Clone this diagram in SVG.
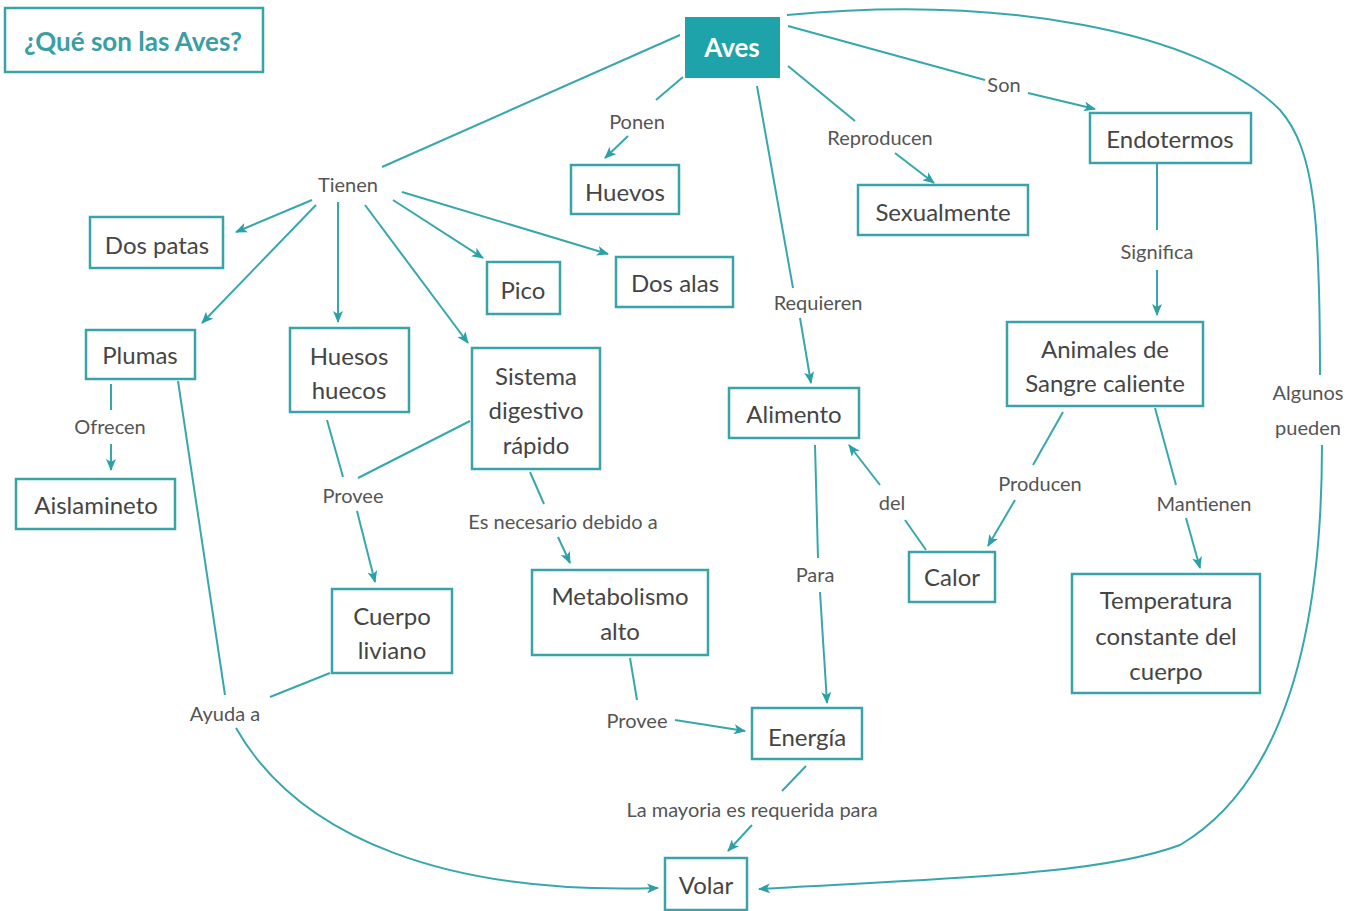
<svg xmlns="http://www.w3.org/2000/svg" width="1358" height="911" viewBox="0 0 1358 911">
<style>
.box{fill:#fff;stroke:#3aa3a8;stroke-width:2.5}
.nt{font-family:Lato,"Open Sans",sans-serif;font-size:24px;fill:#454545;text-anchor:middle}
.lb{font-family:Lato,"Open Sans",sans-serif;font-size:20px;fill:#555;text-anchor:middle}
.c{fill:none;stroke:#36a8ad;stroke-width:2}
.a{marker-end:url(#arr)}
</style>
<defs>
<marker id="arr" viewBox="0 0 12 10" refX="11" refY="5" markerWidth="12" markerHeight="10" markerUnits="userSpaceOnUse" orient="auto">
<path d="M0,0 L12,5 L0,10 L3,5 z" fill="#2aa1a6"/>
</marker>
</defs>
<rect width="1358" height="911" fill="#fff"/>

<g id="connectors">
<line class="c" x1="680" y1="35" x2="382" y2="167"/>
<line class="c a" x1="312" y1="200" x2="236" y2="232"/>
<line class="c a" x1="316" y1="205" x2="202" y2="323"/>
<line class="c a" x1="338" y1="202" x2="338" y2="322"/>
<line class="c a" x1="365" y1="205" x2="468" y2="343"/>
<line class="c a" x1="393" y1="200" x2="483" y2="258"/>
<line class="c a" x1="402" y1="192" x2="608" y2="254"/>
<line class="c" x1="683" y1="77" x2="656" y2="100"/>
<line class="c a" x1="628" y1="136" x2="605" y2="158"/>
<line class="c" x1="788" y1="66" x2="855" y2="121"/>
<line class="c a" x1="895" y1="153" x2="934" y2="183"/>
<line class="c" x1="788" y1="26" x2="985" y2="80"/>
<line class="c a" x1="1028" y1="93" x2="1095" y2="109"/>
<line class="c" x1="757" y1="86" x2="793" y2="288"/>
<line class="c a" x1="800" y1="318" x2="811" y2="383"/>
<line class="c" x1="1157" y1="163" x2="1157" y2="230"/>
<line class="c a" x1="1157" y1="270" x2="1157" y2="315"/>
<line class="c" x1="1063" y1="412" x2="1033" y2="465"/>
<line class="c a" x1="1015" y1="500" x2="988" y2="546"/>
<line class="c" x1="1155" y1="408" x2="1176" y2="485"/>
<line class="c a" x1="1186" y1="518" x2="1200" y2="568"/>
<line class="c" x1="926" y1="550" x2="905" y2="520"/>
<line class="c a" x1="880" y1="485" x2="849" y2="445"/>
<line class="c" x1="815" y1="445" x2="818" y2="558"/>
<line class="c a" x1="820" y1="592" x2="827" y2="703"/>
<line class="c" x1="470" y1="421" x2="358" y2="478"/>
<line class="c" x1="327" y1="420" x2="343" y2="477"/>
<line class="c a" x1="357" y1="511" x2="375" y2="582"/>
<line class="c" x1="530" y1="472" x2="544" y2="504"/>
<line class="c a" x1="558" y1="537" x2="570" y2="563"/>
<line class="c" x1="630" y1="658" x2="637" y2="700"/>
<line class="c a" x1="675" y1="720" x2="745" y2="731"/>
<line class="c" x1="806" y1="766" x2="782" y2="791"/>
<line class="c a" x1="752" y1="825" x2="728" y2="851"/>
<line class="c" x1="111" y1="384" x2="111" y2="410"/>
<line class="c a" x1="111" y1="444" x2="111" y2="470"/>
<line class="c" x1="178" y1="381" x2="225" y2="695"/>
<line class="c" x1="330" y1="673" x2="270" y2="697"/>
<path class="c a" d="M236,728 C300,840 450,895 658,888"/>
<path class="c" d="M787,15 C1000,-5 1200,30 1280,110 C1315,150 1320,220 1320,375"/>
<path class="c a" d="M1322,445 C1322,620 1290,780 1180,845 C1100,875 950,878 759,889"/>
</g>

<g id="title">
<rect x="5" y="8" width="258" height="64" fill="#fff" stroke="#3aa3a8" stroke-width="2.5"/>
<text x="133" y="51" font-family="Lato,'Open Sans',sans-serif" font-size="26" font-weight="bold" fill="#3a9ea4" text-anchor="middle">¿Qué son las Aves?</text>
</g>

<g id="aves">
<rect x="685" y="17" width="95" height="61" fill="#1fa3aa"/>
<text x="732" y="57" font-family="Lato,'Open Sans',sans-serif" font-size="26" font-weight="bold" fill="#fff" text-anchor="middle">Aves</text>
</g>

<g id="huevos"><rect class="box" x="571" y="165" width="108" height="49"/><text class="nt" x="625" y="201">Huevos</text></g>
<g id="sexualmente"><rect class="box" x="858" y="185" width="170" height="50"/><text class="nt" x="943" y="221">Sexualmente</text></g>
<g id="endotermos"><rect class="box" x="1090" y="113" width="161" height="50"/><text class="nt" x="1170" y="148">Endotermos</text></g>
<g id="dospatas"><rect class="box" x="90" y="217" width="133" height="51"/><text class="nt" x="157" y="254">Dos patas</text></g>
<g id="pico"><rect class="box" x="487" y="262" width="73" height="52"/><text class="nt" x="523" y="299">Pico</text></g>
<g id="dosalas"><rect class="box" x="616" y="257" width="117" height="50"/><text class="nt" x="675" y="292">Dos alas</text></g>
<g id="plumas"><rect class="box" x="86" y="330" width="109" height="49"/><text class="nt" x="140" y="364">Plumas</text></g>
<g id="huesos"><rect class="box" x="290" y="328" width="119" height="84"/><text class="nt" x="349" y="365">Huesos</text><text class="nt" x="349" y="399">huecos</text></g>
<g id="sistema"><rect class="box" x="472" y="348" width="128" height="121"/><text class="nt" x="536" y="385">Sistema</text><text class="nt" x="536" y="419">digestivo</text><text class="nt" x="536" y="454">rápido</text></g>
<g id="alimento"><rect class="box" x="729" y="388" width="130" height="50"/><text class="nt" x="794" y="423">Alimento</text></g>
<g id="animales"><rect class="box" x="1007" y="322" width="196" height="84"/><text class="nt" x="1105" y="358">Animales de</text><text class="nt" x="1105" y="392">Sangre caliente</text></g>
<g id="aislamineto"><rect class="box" x="16" y="479" width="159" height="50"/><text class="nt" x="96" y="514">Aislamineto</text></g>
<g id="cuerpo"><rect class="box" x="332" y="589" width="120" height="84"/><text class="nt" x="392" y="625">Cuerpo</text><text class="nt" x="392" y="659">liviano</text></g>
<g id="metabolismo"><rect class="box" x="532" y="570" width="176" height="85"/><text class="nt" x="620" y="605">Metabolismo</text><text class="nt" x="620" y="640">alto</text></g>
<g id="calor"><rect class="box" x="909" y="552" width="86" height="50"/><text class="nt" x="952" y="586">Calor</text></g>
<g id="temperatura"><rect class="box" x="1072" y="574" width="188" height="119"/><text class="nt" x="1166" y="609">Temperatura</text><text class="nt" x="1166" y="645">constante del</text><text class="nt" x="1166" y="680">cuerpo</text></g>
<g id="energia"><rect class="box" x="752" y="708" width="110" height="51"/><text class="nt" x="807" y="746">Energía</text></g>
<g id="volar"><rect class="box" x="665" y="858" width="82" height="52"/><text class="nt" x="706" y="894">Volar</text></g>

<g id="labels">
<text class="lb" x="348" y="192">Tienen</text>
<text class="lb" x="637" y="129">Ponen</text>
<text class="lb" x="880" y="145">Reproducen</text>
<text class="lb" x="1004" y="92">Son</text>
<text class="lb" x="1157" y="259">Significa</text>
<text class="lb" x="818" y="310">Requieren</text>
<text class="lb" x="110" y="434">Ofrecen</text>
<text class="lb" x="353" y="503">Provee</text>
<text class="lb" x="563" y="529">Es necesario debido a</text>
<text class="lb" x="815" y="582">Para</text>
<text class="lb" x="892" y="510">del</text>
<text class="lb" x="1040" y="491">Producen</text>
<text class="lb" x="1204" y="511">Mantienen</text>
<text class="lb" x="1308" y="400">Algunos</text>
<text class="lb" x="1308" y="435">pueden</text>
<text class="lb" x="225" y="721">Ayuda a</text>
<text class="lb" x="637" y="728">Provee</text>
<text class="lb" x="752" y="817">La mayoria es requerida para</text>
</g>
</svg>
